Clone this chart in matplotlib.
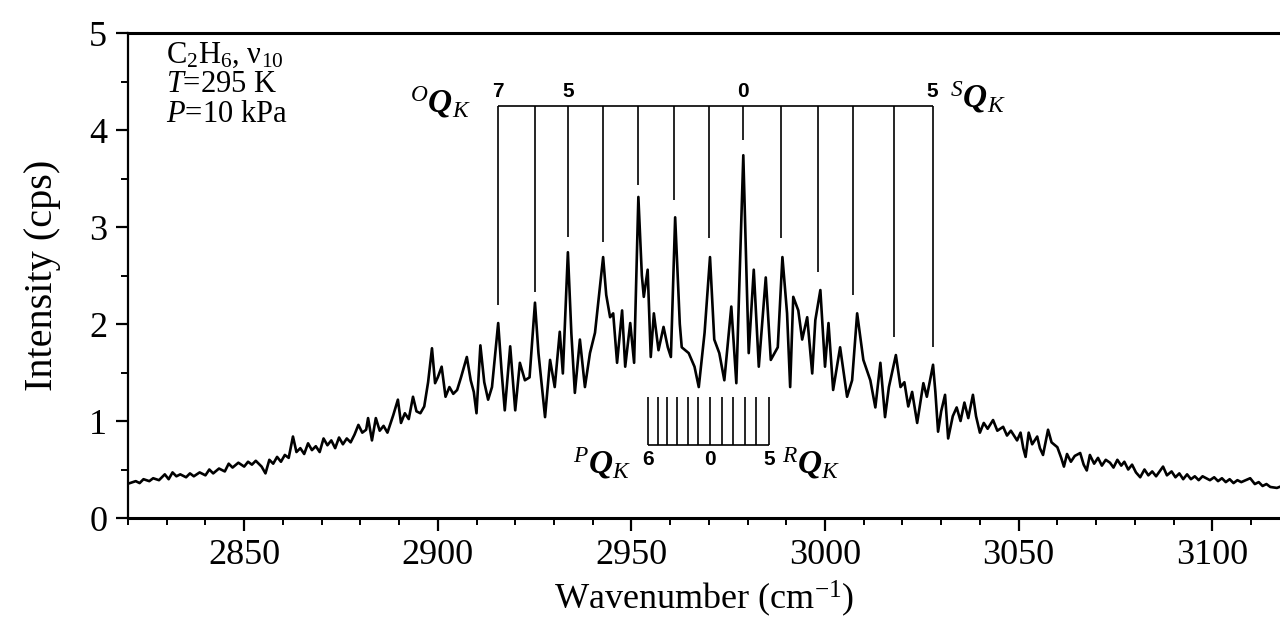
import matplotlib
matplotlib.use('Agg')
import matplotlib.pyplot as plt
from matplotlib.ticker import MultipleLocator

plt.rcParams['font.family'] = ['Liberation Serif', 'DejaVu Serif']
plt.rcParams['mathtext.fontset'] = 'custom'
plt.rcParams['mathtext.rm'] = 'Liberation Serif'
plt.rcParams['mathtext.it'] = 'Liberation Serif:italic'
plt.rcParams['mathtext.bf'] = 'Liberation Serif:bold'
plt.rcParams['mathtext.bfit'] = 'Liberation Serif:italic:bold'

# ---------------- data ----------------
wavenumber = [
    2820.5, 2822, 2823, 2824, 2825.5, 2826.5, 2828, 2829.5, 2830.5, 2831.5, 2832.5, 2833.5,
    2835, 2836, 2837, 2838.5, 2840, 2841, 2842, 2843.5, 2845, 2846, 2847, 2848.5, 2850, 2851,
    2852, 2853, 2854.5, 2855.5, 2856.5, 2857.5, 2858.5, 2859.5, 2860.5, 2861.5, 2862.6, 2863.5,
    2864.5, 2865.5, 2866.5, 2867.5, 2868.5, 2869.5, 2870.5, 2871.5, 2872.5, 2873.5, 2874.5,
    2875.5, 2876.5, 2877.5, 2878.5, 2879.5, 2880.5, 2881.5, 2882, 2883, 2884, 2885, 2886, 2887,
    2888.5, 2889.7, 2890.5, 2891.5, 2892.5, 2893.6, 2894.5, 2895.5, 2896.5, 2897.5, 2898.5,
    2899.3, 2900, 2901, 2902, 2903, 2904, 2905, 2906, 2907.5, 2908.5, 2909.3, 2910, 2911, 2912,
    2913, 2914, 2915.6, 2916.5, 2917.3, 2918.7, 2920, 2921.2, 2922.5, 2923.7, 2925.1, 2926,
    2927.7, 2929, 2930.2, 2931.5, 2932.3, 2933.6, 2934.5, 2935.4, 2936.7, 2938, 2939.3, 2940.6,
    2942.7, 2943.5, 2944.5, 2945.3, 2946.3, 2947.6, 2948.4, 2949.7, 2950.7, 2951.8, 2952.7,
    2953.2, 2954.2, 2955, 2955.8, 2957, 2958.3, 2959.4, 2960.2, 2961.3, 2962.5, 2963, 2964.8,
    2966.3, 2967.4, 2968.9, 2970.3, 2971.4, 2972.7, 2974, 2975.8, 2977.1, 2978.9, 2979.8,
    2980.3, 2981.6, 2982.9, 2984.7, 2986, 2987.8, 2989, 2990.2, 2991, 2991.8, 2993.1, 2994.1,
    2995.4, 2996.7, 2997.5, 2998.8, 3000, 3000.9, 3002.1, 3003.9, 3005.7, 3007, 3008.3, 3009.9,
    3011.7, 3013, 3014.3, 3015.5, 3016.5, 3018.3, 3019.5, 3020.5, 3021.5, 3022.5, 3023.8,
    3025.4, 3026.3, 3027.9, 3028.5, 3029.2, 3030, 3031, 3031.8, 3033, 3034, 3035, 3036, 3037,
    3038.2, 3039, 3040, 3041, 3042, 3043.4, 3044.5, 3046, 3047, 3048, 3049.6, 3050.5, 3051.2,
    3051.8, 3052.6, 3053.5, 3054.8, 3055.5, 3056.3, 3057.6, 3058.5, 3060, 3061, 3061.7, 3062.5,
    3063.5, 3064.5, 3065.9, 3066.8, 3067.6, 3068.4, 3069.5, 3070.5, 3071.5, 3072.5, 3073.6,
    3074.5, 3075.5, 3076.5, 3077.3, 3078.3, 3079.3, 3080.3, 3081.4, 3082.5, 3083.5, 3084.5,
    3085.5, 3087.3, 3088.3, 3089.5, 3090.5, 3091.5, 3092.5, 3093.5, 3094.5, 3095.5, 3096.5,
    3097.5, 3099.4, 3100.5, 3101.5, 3102.5, 3103.5, 3104.5, 3105.5, 3106.5, 3107.5, 3109.8,
    3111, 3112, 3113, 3114, 3115, 3116.7, 3118,
]
intensity = [
    0.36, 0.38, 0.36, 0.40, 0.38, 0.41, 0.39, 0.45, 0.40, 0.47, 0.43, 0.45,
    0.42, 0.46, 0.43, 0.47, 0.44, 0.50, 0.46, 0.51, 0.48, 0.56, 0.52, 0.57, 0.53, 0.58,
    0.55, 0.59, 0.53, 0.46, 0.60, 0.56, 0.63, 0.58, 0.65, 0.62, 0.84, 0.68,
    0.72, 0.66, 0.77, 0.70, 0.74, 0.68, 0.82, 0.75, 0.80, 0.72, 0.83,
    0.76, 0.82, 0.78, 0.86, 0.96, 0.88, 0.91, 1.03, 0.80, 1.03, 0.90, 0.95, 0.88,
    1.06, 1.22, 0.98, 1.08, 1.02, 1.25, 1.10, 1.08, 1.15, 1.40, 1.75,
    1.39, 1.45, 1.56, 1.25, 1.35, 1.28, 1.32, 1.45, 1.66, 1.42, 1.30, 1.08, 1.78, 1.40,
    1.22, 1.35, 2.01, 1.50, 1.11, 1.77, 1.11, 1.60, 1.42, 1.45, 2.22, 1.70,
    1.04, 1.63, 1.35, 1.92, 1.49, 2.74, 1.90, 1.29, 1.84, 1.35, 1.70, 1.91,
    2.69, 2.30, 2.07, 2.11, 1.60, 2.14, 1.56, 2.01, 1.60, 3.31, 2.50,
    2.28, 2.56, 1.66, 2.11, 1.73, 1.97, 1.76, 1.66, 3.10, 2.00, 1.76, 1.70,
    1.56, 1.35, 1.91, 2.69, 1.84, 1.70, 1.42, 2.18, 1.39, 3.74, 2.40,
    1.70, 2.56, 1.56, 2.48, 1.63, 1.76, 2.69, 2.11, 1.35, 2.28, 2.14, 1.84,
    2.07, 1.49, 2.04, 2.35, 1.56, 2.01, 1.32, 1.76, 1.25, 1.42, 2.11, 1.63,
    1.42, 1.14, 1.60, 1.04, 1.35, 1.68, 1.35, 1.40, 1.15, 1.30, 0.98,
    1.39, 1.25, 1.58, 1.30, 0.89, 1.10, 1.27, 0.82, 1.05, 1.14, 1.00, 1.19, 1.03,
    1.27, 1.05, 0.88, 0.98, 0.92, 1.01, 0.90, 0.94, 0.85, 0.90, 0.80, 0.88, 0.72,
    0.63, 0.88, 0.76, 0.84, 0.72, 0.65, 0.91, 0.78, 0.73, 0.62, 0.53, 0.66,
    0.58, 0.64, 0.67, 0.55, 0.49, 0.65, 0.56, 0.62, 0.54, 0.60, 0.57,
    0.52, 0.60, 0.54, 0.58, 0.50, 0.55, 0.47, 0.42, 0.50, 0.44, 0.48,
    0.43, 0.53, 0.44, 0.48, 0.42, 0.46, 0.40, 0.45, 0.40, 0.43, 0.39,
    0.43, 0.39, 0.42, 0.38, 0.41, 0.37, 0.40, 0.36, 0.39, 0.37, 0.41,
    0.35, 0.37, 0.33, 0.35, 0.32, 0.31, 0.33,
]

# O/S Q-branch markers (K = 7..1 for O, 0..5 for S)
os_positions = [2915.6, 2925.2, 2933.7, 2942.7, 2951.8, 2961.1, 2970.1,
                2978.9, 2988.7, 2998.3, 3007.1, 3017.7, 3027.8]
os_line_bottom = [2.20, 2.33, 2.90, 2.85, 3.43, 3.28, 2.89,
                  3.90, 2.89, 2.54, 2.30, 1.87, 1.76]
os_labels = {0: '7', 2: '5', 7: '0', 12: '5'}
os_top = 4.25

# P/R Q-branch markers (K = 6..1 for P, 0..5 for R)
pr_positions = [2954.3, 2956.9, 2959.3, 2961.7, 2964.5, 2967.3,
                2970.3, 2973.3, 2976.3, 2979.3, 2982.3, 2985.6]
pr_labels = {0: '6', 6: '0', 11: '5'}
pr_top = 1.25
pr_base = 0.75

x_ticks = [2850, 2900, 2950, 3000, 3050, 3100]
y_ticks = [0, 1, 2, 3, 4, 5]

# ---------------- figure ----------------
fig = plt.figure(figsize=(12.8, 6.22), dpi=100)
ax = fig.add_axes([0.1, 0.1672, 0.9, 0.7797])

ax.plot(wavenumber, intensity, color='black', lw=1.9)

# O / S comb
ax.hlines(os_top, os_positions[0], os_positions[-1], color='black', lw=1.2)
ax.vlines(os_positions, os_line_bottom, os_top, color='black', lw=1.2)
for i, lab in os_labels.items():
    ax.text(os_positions[i], os_top + 0.05, lab, ha='center', va='bottom',
            fontsize=15, fontweight='bold', family='Liberation Sans')
ax.text(2900.6, 4.29, r'$^{O}\mathbfit{Q}_{K}$', ha='center', va='center', fontsize=24)
ax.text(3039.5, 4.34, r'$^{S}\mathbfit{Q}_{K}$', ha='center', va='center', fontsize=24)

# P / R comb
ax.hlines(pr_base, pr_positions[0], pr_positions[-1], color='black', lw=1.2)
ax.vlines(pr_positions, pr_base, pr_top, color='black', lw=1.2)
for i, lab in pr_labels.items():
    ax.text(pr_positions[i], pr_base - 0.05, lab, ha='center', va='top',
            fontsize=15, fontweight='bold', family='Liberation Sans')
ax.text(2942.5, 0.57, r'$^{P}\mathbfit{Q}_{K}$', ha='center', va='center', fontsize=24)
ax.text(2996.3, 0.57, r'$^{R}\mathbfit{Q}_{K}$', ha='center', va='center', fontsize=24)

# sample annotation
ax.text(0.033, 0.955, 'C$_2$H$_6$, ν$_{10}$', transform=ax.transAxes,
        ha='left', va='center', fontsize=22)
ax.text(0.033, 0.893, '$T$=295 K', transform=ax.transAxes,
        ha='left', va='center', fontsize=22)
ax.text(0.033, 0.833, '$P$=10 kPa', transform=ax.transAxes,
        ha='left', va='center', fontsize=22)

ax.set_xlim(2820, 3117.5)
ax.set_ylim(0, 5)
ax.set_xticks(x_ticks)
ax.set_yticks(y_ticks)
ax.xaxis.set_minor_locator(MultipleLocator(10))
ax.yaxis.set_minor_locator(MultipleLocator(0.5))
ax.tick_params(which='major', direction='out', length=9, width=1.6, labelsize=26, pad=6)
ax.tick_params(which='minor', direction='out', length=5, width=1.4)

ax.spines['right'].set_visible(False)
ax.spines['top'].set_linewidth(2.2)
ax.spines['bottom'].set_linewidth(2.2)
ax.spines['left'].set_linewidth(1.6)

ax.set_xlabel('Wavenumber (cm$^{-1}$)', fontsize=26, labelpad=5)
ax.set_ylabel('Intensity (cps)', fontsize=29, labelpad=20)

fig.savefig('out.png', dpi=100)
